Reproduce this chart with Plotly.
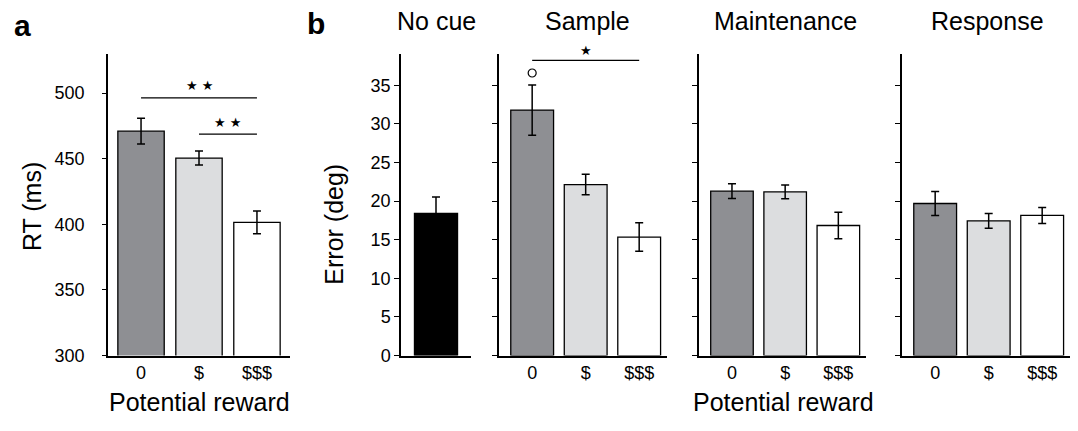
import plotly.graph_objects as go

W, H = 1078, 431

# ---------------- data ----------------
categories = ["0", "$", "$$$"]
rt_mean = [471.0, 450.5, 401.5]
rt_sem = [9.8, 5.3, 8.7]

nocue_mean = [18.4]
nocue_sem = [2.15]

sample_mean = [31.8, 22.15, 15.35]
sample_sem = [3.25, 1.33, 1.85]
maint_mean = [21.3, 21.2, 16.85]
maint_sem = [0.95, 0.9, 1.72]
resp_mean = [19.7, 17.45, 18.15]
resp_sem = [1.55, 0.95, 1.03]

panel_titles = ["No cue", "Sample", "Maintenance", "Response"]
rt_ticks = [300, 350, 400, 450, 500]
err_ticks = [0, 5, 10, 15, 20, 25, 30, 35]

# significance: (x0, x1, y, label)
sig_a = [(0, 2, 496.3, "★ ★"), (1, 2, 468.8, "★ ★")]
sig_sample = [(0, 2, 38.25, "★")]
outlier_sample_x = [0]
outlier_sample_y = [36.6]

bar_colors = ["#8e8f93", "#dcdddf", "#ffffff"]
FONT = "Liberation Sans, Arial, Helvetica, sans-serif"

# ---------------- layout helpers (window pixels -> paper fractions) ----------------
def px_x(p):
    return p / W

def px_y(p):
    return (H - p) / H

y_dom = [px_y(364), px_y(55)]
x_doms = {
    "a": [px_x(108), px_x(290)],
    "nc": [px_x(401), px_x(471)],
    "s": [px_x(499), px_x(667)],
    "m": [px_x(699), px_x(866)],
    "r": [px_x(902), px_x(1070)],
}

fig = go.Figure()

def add_bars(xa, ya, means, sems, colors):
    fig.add_trace(go.Bar(
        x=list(range(len(means))), y=means,
        xaxis=xa, yaxis=ya,
        marker=dict(color=colors, line=dict(color="black", width=1.3)),
        width=0.8,
        error_y=dict(type="data", array=sems, color="black", thickness=1.5, width=4),
        showlegend=False, hoverinfo="skip",
    ))

add_bars("x", "y", rt_mean, rt_sem, bar_colors)
add_bars("x2", "y2", nocue_mean, nocue_sem, ["#000000"])
add_bars("x3", "y3", sample_mean, sample_sem, bar_colors)
add_bars("x4", "y4", maint_mean, maint_sem, bar_colors)
add_bars("x5", "y5", resp_mean, resp_sem, bar_colors)

fig.add_trace(go.Scatter(
    x=outlier_sample_x, y=outlier_sample_y, xaxis="x3", yaxis="y3",
    mode="markers", marker=dict(symbol="circle-open", size=8, color="black", line=dict(width=1.2)),
    showlegend=False, hoverinfo="skip", cliponaxis=False,
))

TICKFONT = dict(family=FONT, size=18, color="black")

def axis_common():
    return dict(showline=True, linecolor="black", linewidth=1.5, showgrid=False,
                zeroline=False, tickfont=dict(TICKFONT))

xr = [-0.62, 2.52]
layout = dict(
    width=W, height=H,
    margin=dict(l=0, r=0, t=0, b=0, pad=0),
    font=dict(family=FONT, size=18, color="black"),
    paper_bgcolor="white", plot_bgcolor="white",
    xaxis=dict(domain=x_doms["a"], range=[-0.57, 2.57], tickvals=[0, 1, 2], ticktext=categories,
               ticks="", anchor="y", **axis_common()),
    yaxis=dict(domain=y_dom, range=[300, 530], tickvals=rt_ticks, ticks="outside", ticklen=4,
               tickwidth=1.3, tickcolor="black", anchor="x", ticklabelstandoff=14, **axis_common()),
    xaxis2=dict(domain=x_doms["nc"], range=[-0.65, 0.65], showticklabels=False, ticks="",
                anchor="y2", **axis_common()),
    yaxis2=dict(domain=y_dom, range=[0, 39.1], tickvals=err_ticks, ticks="outside", ticklen=5,
                tickwidth=1.3, tickcolor="black", anchor="x2", **axis_common()),
)
for i, key in zip([3, 4, 5], ["s", "m", "r"]):
    layout[f"xaxis{i}"] = dict(domain=x_doms[key], range=xr, tickvals=[0, 1, 2], ticktext=categories,
                               ticks="", anchor=f"y{i}", **axis_common())
    layout[f"yaxis{i}"] = dict(domain=y_dom, range=[0, 39.1], tickvals=err_ticks, ticks="outside",
                               ticklen=5, tickwidth=1.3, tickcolor="black", showticklabels=False,
                               anchor=f"x{i}", **axis_common())
fig.update_layout(**layout)

shapes = []
annotations = []
STARFONT = dict(family="DejaVu Sans", size=13, color="black")
for x0, x1, yv, lab in sig_a:
    shapes.append(dict(type="line", xref="x", yref="y", x0=x0, x1=x1, y0=yv, y1=yv,
                       line=dict(color="black", width=1.3)))
    annotations.append(dict(xref="x", yref="y", x=(x0 + x1) / 2, y=yv, text=lab, showarrow=False,
                            xanchor="center", yanchor="middle", yshift=12, font=STARFONT))
for x0, x1, yv, lab in sig_sample:
    shapes.append(dict(type="line", xref="x3", yref="y3", x0=x0, x1=x1, y0=yv, y1=yv,
                       line=dict(color="black", width=1.3)))
    annotations.append(dict(xref="x3", yref="y3", x=(x0 + x1) / 2, y=yv, text=lab, showarrow=False,
                            xanchor="center", yanchor="middle", yshift=10, font=STARFONT))

title_font = dict(family=FONT, size=25, color="black")

def paper_text(xp, yp, text, font, angle=0):
    annotations.append(dict(xref="paper", yref="paper", x=px_x(xp), y=px_y(yp), text=text,
                            textangle=angle, showarrow=False, xanchor="center", yanchor="middle",
                            font=font))

# panel titles
for cx, ttl in zip([436, 587, 785, 987], panel_titles):
    paper_text(cx, 22, ttl, title_font)
# panel letters
paper_text(22, 26, "<b>a</b>", dict(family=FONT, size=30, color="black"))
paper_text(316, 24, "<b>b</b>", dict(family=FONT, size=30, color="black"))
# axis titles
paper_text(32, 212, "RT (ms)", title_font, -90)
paper_text(334, 230, "Error (deg)", title_font, -90)
paper_text(200, 412, "Potential reward", title_font)
paper_text(783, 412, "Potential reward", title_font)

fig.update_layout(shapes=shapes, annotations=annotations)
fig.write_html("out.html", config={"displayModeBar": False},
               post_script="document.body.style.margin='0';document.body.style.overflow='hidden';")
